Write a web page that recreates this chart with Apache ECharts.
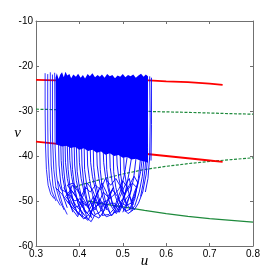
<!DOCTYPE html>
<html><head><meta charset="utf-8">
<script src="https://cdn.jsdelivr.net/npm/echarts@6/dist/echarts.min.js"></script>
<style>html,body{margin:0;padding:0;background:#fff}#c{width:277px;height:277px}</style>
</head><body><div id="c"></div>
<script>
// ---- data (u, v) ----
const xTicks = [0.3, 0.4, 0.5, 0.6, 0.7, 0.8];
const yTicks = [-60, -50, -40, -30, -20, -10];

const redUpper = [[0.30,-23.1],[0.35,-23.2],[0.40,-23.2],[0.45,-23.2],[0.50,-23.2],[0.56,-23.2],[0.60,-23.4],[0.65,-23.6],[0.70,-23.9],[0.73,-24.2]];
const redLower = [[0.30,-36.8],[0.35,-37.3],[0.40,-37.8],[0.45,-38.4],[0.50,-38.9],[0.55,-39.5],[0.60,-40.0],[0.65,-40.5],[0.70,-41.0],[0.73,-41.3]];
const greenDashUpper = [[0.30,-29.6],[0.40,-29.8],[0.50,-30.0],[0.56,-30.1],[0.60,-30.2],[0.65,-30.3],[0.70,-30.45],[0.75,-30.6],[0.80,-30.7]];
const greenDashLower = [[0.39,-47.0],[0.40,-46.5],[0.45,-45.2],[0.50,-44.0],[0.55,-43.0],[0.60,-42.3],[0.65,-41.7],[0.70,-41.2],[0.75,-40.8],[0.80,-40.4]];
const greenSolid = [[0.42,-50.0],[0.45,-50.6],[0.50,-51.3],[0.55,-52.1],[0.60,-52.8],[0.65,-53.4],[0.70,-53.9],[0.75,-54.3],[0.80,-54.7]];

// dense core of the bursting trajectory (outline)
const coreTop = [[0.345,-22.6],[0.348,-21.6],[0.352,-22.9],[0.356,-21.9],[0.36,-21.4],[0.364,-22.5],[0.368,-21.3],[0.372,-22.1],[0.377,-21.8],[0.381,-22.7],[0.386,-21.9],[0.392,-22.4],[0.397,-21.7],[0.403,-22.6],[0.408,-22.0],[0.413,-22.8],[0.419,-21.8],[0.424,-22.3],[0.43,-21.6],[0.436,-22.5],[0.442,-22.0],[0.447,-22.4],[0.452,-21.9],[0.458,-22.6],[0.464,-21.8],[0.47,-22.3],[0.476,-22.0],[0.482,-22.7],[0.488,-22.1],[0.494,-22.4],[0.50,-21.8],[0.506,-22.5],[0.512,-22.0],[0.518,-22.3],[0.524,-21.9],[0.53,-22.6],[0.536,-22.1],[0.542,-21.7],[0.548,-22.4],[0.553,-21.9],[0.558,-22.3]];
const coreBottom = [[0.558,-41.5],[0.55,-41.2],[0.54,-41.0],[0.53,-40.6],[0.52,-40.8],[0.51,-40.2],[0.50,-40.4],[0.49,-39.8],[0.48,-40.0],[0.47,-39.4],[0.46,-39.7],[0.45,-39.0],[0.44,-39.3],[0.43,-38.6],[0.42,-38.9],[0.41,-38.3],[0.40,-38.6],[0.39,-38.0],[0.38,-38.2],[0.37,-37.7],[0.36,-37.9],[0.346,-37.4]];

// trajectory strokes
const leftSpikes = [
 [0.321,-21.6],[0.321,-30],[0.322,-38],[0.324,-43],[0.328,-46.5],[0.334,-48.5],[0.342,-49.5],null,
 [0.327,-21.8],[0.327,-32],[0.328,-40],[0.331,-45],[0.337,-48],[0.346,-50],null,
 [0.333,-21.4],[0.333,-34],[0.335,-42],[0.339,-46.5],[0.347,-49.5],[0.356,-51],null,
 [0.338,-21.9],[0.338,-36],[0.341,-43],[0.346,-47],[0.355,-50],[0.365,-52],null,
 [0.343,-21.5],[0.344,-38],[0.347,-44],[0.353,-48],[0.362,-51],[0.372,-53]
];
const jStrokes = [
 [0.352,-37],[0.353,-42],[0.357,-46],[0.363,-49],[0.372,-51.5],null,
 [0.362,-37],[0.363,-42],[0.367,-46],[0.374,-49.5],[0.385,-52.5],null,
 [0.372,-37.5],[0.374,-43],[0.378,-46.5],[0.386,-50],[0.396,-53],null,
 [0.382,-37.5],[0.384,-43],[0.389,-47],[0.397,-50.5],[0.408,-53.5],null,
 [0.393,-38],[0.395,-43.5],[0.400,-47],[0.408,-50.5],[0.418,-54],null,
 [0.405,-38],[0.406,-42],[0.410,-46],[0.418,-50],[0.428,-53.8],null,
 [0.418,-38.4],[0.419,-42],[0.423,-45],[0.430,-48.5],[0.440,-52],[0.448,-53.5],null,
 [0.432,-38.6],[0.433,-42.5],[0.437,-46],[0.444,-49],[0.455,-52.5],null,
 [0.447,-39],[0.448,-43],[0.452,-46.5],[0.460,-50],[0.470,-52.5],null,
 [0.462,-39.2],[0.463,-43],[0.468,-47],[0.476,-50.5],[0.486,-52.5],null,
 [0.478,-39.5],[0.479,-43.5],[0.484,-47],[0.492,-50],[0.503,-52],null,
 [0.494,-39.7],[0.495,-44],[0.500,-47.5],[0.508,-50.5],[0.518,-51.8]
];
const jStrokes2 = [
 [0.357,-37],[0.358,-41],[0.361,-44.5],[0.367,-47.5],[0.376,-50],[0.382,-51.5],null,
 [0.367,-37.3],[0.368,-41.5],[0.372,-45],[0.379,-48],[0.389,-51],null,
 [0.377,-37.5],[0.378,-41],[0.382,-44.5],[0.389,-48],[0.400,-51.5],[0.410,-53],null,
 [0.388,-37.8],[0.389,-42],[0.393,-45.5],[0.401,-49],[0.412,-52.5],null,
 [0.399,-38],[0.400,-41.5],[0.404,-45],[0.412,-48.5],[0.423,-52],[0.432,-53.2],null,
 [0.411,-38.2],[0.412,-43],[0.417,-46.5],[0.425,-50],[0.436,-53],null,
 [0.425,-38.5],[0.426,-41.5],[0.430,-44.5],[0.438,-48],[0.449,-51.5],null,
 [0.440,-38.8],[0.441,-42],[0.445,-45],[0.452,-48.5],[0.463,-52],null,
 [0.455,-39.1],[0.456,-41.5],[0.460,-44.5],[0.468,-48],[0.479,-51.5],null,
 [0.470,-39.3],[0.471,-42.5],[0.475,-45.5],[0.483,-49],[0.494,-51.8],null,
 [0.486,-39.6],[0.487,-42],[0.491,-45],[0.499,-48.5],[0.510,-51.2],null,
 [0.502,-39.9],[0.503,-43],[0.508,-46],[0.516,-49],[0.525,-50.8]
];
const cloudPath = [
 [0.345,-47],[0.36,-48.5],[0.375,-50.5],[0.39,-52],[0.405,-53.2],[0.42,-54.3],[0.428,-52.5],[0.435,-50],[0.445,-47.5],[0.438,-49],
 [0.43,-51.5],[0.425,-53.5],[0.412,-52],[0.398,-50],[0.385,-48],[0.372,-46.5],[0.386,-46],[0.40,-48],[0.415,-50.5],[0.43,-53],
 [0.445,-53.8],[0.458,-52],[0.468,-49.5],[0.478,-47],[0.47,-48.5],[0.46,-51],[0.452,-53.2],[0.468,-53],[0.482,-51.5],[0.494,-49],
 [0.505,-46.5],[0.515,-45],[0.52,-47.5],[0.512,-50],[0.505,-52.3],[0.518,-51.8],[0.528,-49.5],[0.532,-47],[0.522,-46],[0.508,-48],
 [0.495,-51],[0.485,-52.8],[0.472,-51],[0.462,-48],[0.452,-46],[0.44,-48.5],[0.428,-51],[0.418,-52.8],[0.405,-51],[0.392,-49],
 [0.38,-47.5],[0.368,-49],[0.382,-50.5],[0.396,-52.5],[0.41,-54],[0.422,-53],[0.434,-51.5],[0.448,-50.5],[0.462,-50],[0.476,-49],
 [0.49,-47.5],[0.50,-45.5],[0.51,-47],[0.50,-49.5],[0.488,-51],[0.476,-53],[0.462,-53.5],[0.45,-52],[0.44,-50],[0.43,-47.5],
 [0.418,-46],[0.41,-48.5],[0.40,-51],[0.388,-51.5],[0.376,-49],[0.364,-47]
];
const cloudPath2 = [
 [0.35,-45.5],[0.358,-47.5],[0.37,-48],[0.383,-49.5],[0.392,-51],[0.404,-52.3],[0.415,-53.5],[0.427,-54.6],[0.436,-53],[0.447,-52.5],
 [0.456,-50.5],[0.466,-52],[0.474,-53.3],[0.486,-52],[0.497,-50.5],[0.507,-51],[0.519,-50.5],[0.527,-48],[0.535,-46],[0.526,-44.5],
 [0.515,-46.5],[0.503,-48.5],[0.493,-46.5],[0.484,-45],[0.472,-46.5],[0.46,-45],[0.449,-47.5],[0.437,-46.5],[0.425,-48],[0.414,-47],
 [0.404,-49],[0.394,-47.5],[0.383,-46.5],[0.377,-48.5],[0.389,-50],[0.401,-49.5],[0.413,-51],[0.424,-50],[0.436,-52],[0.447,-49.5],
 [0.458,-51.5],[0.469,-50.5],[0.481,-50.5],[0.492,-52.5],[0.504,-50],[0.515,-48.5],[0.524,-52],[0.512,-52.8],[0.50,-51.5],[0.488,-49],
 [0.476,-47.5],[0.465,-49],[0.455,-48],[0.443,-51],[0.432,-49],[0.42,-51.5],[0.408,-50],[0.396,-53.5],[0.385,-52],[0.373,-50]
];
const rightStrokes = [
 [0.557,-40],[0.554,-44],[0.546,-48],[0.536,-50.5],[0.526,-52],null,
 [0.549,-40.3],[0.545,-44.5],[0.538,-48],[0.528,-51],[0.518,-52.3],null,
 [0.541,-40.3],[0.536,-45],[0.528,-49],[0.515,-52],null,
 [0.531,-40],[0.525,-45],[0.515,-49],[0.500,-52.5],null,
 [0.521,-39.8],[0.514,-44],[0.505,-48.5],[0.490,-52.5],null,
 [0.511,-39.6],[0.504,-44],[0.494,-48],[0.480,-51.5],null,
 [0.553,-40.5],[0.551,-43],[0.547,-46],[0.541,-49],null,
 [0.545,-40.5],[0.541,-43.5],[0.533,-47],[0.522,-50],null,
 [0.562,-22.3],[0.563,-32],[0.562,-40],[0.558,-45],[0.552,-48],null,
 [0.566,-22.6],[0.566,-33],[0.565,-41],null
];

// ---- chart ----
const FONT = "'Liberation Sans Narrow','Liberation Sans',Arial,sans-serif";
const chart = echarts.init(document.getElementById('c'), null, {renderer: 'canvas'});
const lbl = {fontFamily: FONT, fontSize: 10, color: '#000'};
const axisLineStyle = {lineStyle: {color: '#707070', width: 1}};
const tick = {inside: true, length: 3, lineStyle: {color: '#707070'}};

function lineSeries(data, color, width, type, z, opacity) {
  return {type: 'line', data: data, showSymbol: false, symbol: 'none', connectNulls: false,
    lineStyle: {color: color, width: width, type: type || 'solid', opacity: opacity == null ? 1 : opacity},
    z: z, silent: true, animation: false, xAxisIndex: 0, yAxisIndex: 0};
}

const corePoly = coreTop.concat(coreBottom);
const nameFont = {fontFamily: "'Liberation Serif','Times New Roman',serif", fontStyle: 'italic', fontSize: 15, color: '#000'};

chart.setOption({
  animation: false,
  backgroundColor: '#fff',
  grid: {left: 36, right: 24, top: 21, bottom: 31, containLabel: false, outerBoundsMode: 'none'},
  xAxis: [
    {type: 'value', min: 0.3, max: 0.8, interval: 0.1, position: 'bottom',
     name: 'u', nameLocation: 'middle', nameGap: 8, nameMoveOverlap: false,
     nameTextStyle: nameFont,
     axisLine: axisLineStyle, axisTick: tick, splitLine: {show: false},
     axisLabel: Object.assign({margin: 3, formatter: v => v.toFixed(1), customValues: xTicks}, lbl)},
    {type: 'value', min: 0.3, max: 0.8, interval: 0.1, position: 'top',
     axisLine: axisLineStyle, axisTick: tick, splitLine: {show: false}, axisLabel: {show: false}}
  ],
  yAxis: [
    {type: 'value', min: -60, max: -10, interval: 10, position: 'left',
     name: 'v', nameLocation: 'middle', nameGap: 15, nameRotate: 0, nameMoveOverlap: false,
     nameTextStyle: nameFont,
     axisLine: axisLineStyle, axisTick: tick, splitLine: {show: false},
     axisLabel: Object.assign({margin: 3, customValues: yTicks}, lbl)},
    {type: 'value', min: -60, max: -10, interval: 10, position: 'right',
     axisLine: axisLineStyle, axisTick: tick, splitLine: {show: false}, axisLabel: {show: false}}
  ],
  series: [
    lineSeries(greenDashUpper, '#1e8a3c', 1.2, [3, 1.5], 2),
    lineSeries(greenDashLower, '#1e8a3c', 1.2, [3, 1.5], 2),
    lineSeries(greenSolid, '#1e8a3c', 1.3, 'solid', 2),
    lineSeries(redUpper, '#ff0000', 1.8, 'solid', 3),
    lineSeries(redLower, '#ff0000', 1.8, 'solid', 3),
    {type: 'custom', data: [[0.45, -30]], z: 4, silent: true, animation: false, clip: true,
     renderItem: function (params, api) {
       const pts = corePoly.map(p => api.coord(p));
       return {type: 'polygon', shape: {points: pts}, style: {fill: '#0000ff'}};
     }},
    lineSeries(leftSpikes, '#0000ff', 1, 'solid', 5, 0.8),
    lineSeries(jStrokes, '#0000ff', 1, 'solid', 5, 0.9),
    lineSeries(jStrokes2, '#0000ff', 1, 'solid', 5, 0.9),
    lineSeries(cloudPath, '#0000ff', 1, 'solid', 5, 0.9),
    lineSeries(cloudPath2, '#0000ff', 1, 'solid', 5, 0.9),
    lineSeries(rightStrokes, '#0000ff', 1, 'solid', 5, 0.9)
  ]
});
</script></body></html>
